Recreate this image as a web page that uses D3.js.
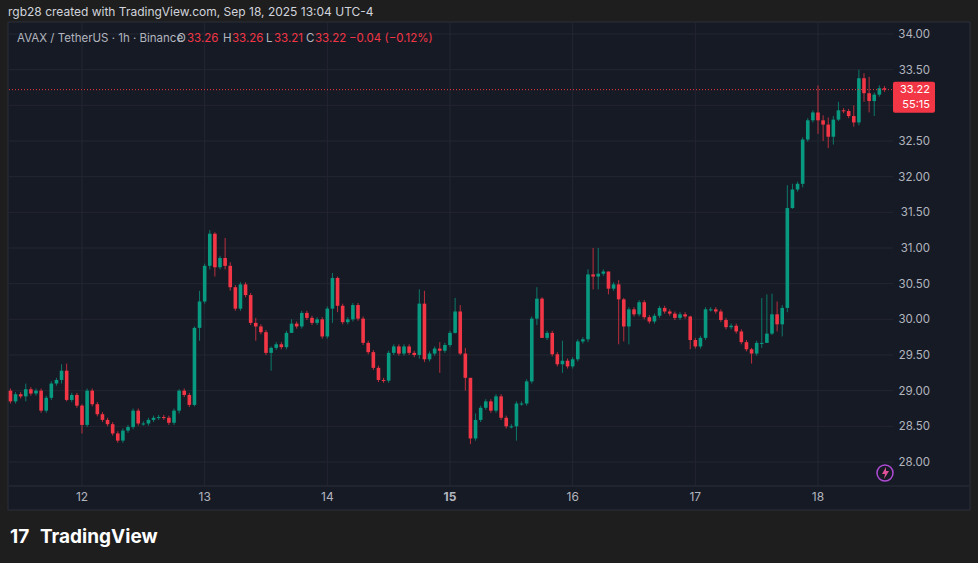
<!DOCTYPE html>
<html><head><meta charset="utf-8">
<script src="https://cdn.jsdelivr.net/npm/d3@7"></script>
<style>
body{margin:0;background:#1e1e1e;font-family:"Inter","Noto Sans",sans-serif;}
</style></head>
<body><div id="chart"></div>
<script>
'use strict';

// hourly closes, Sep 11 10:00 -> Sep 18 13:00
const firstOpen = 29.0;
const closes = [
  28.85,28.95,28.92,29.02,28.96,29.0,28.72,28.90,29.10,29.15,29.28,28.87,28.94,28.79,28.52,29.0,28.81,28.67,28.59,28.53,
  28.40,28.30,28.44,28.49,28.72,28.54,28.54,28.59,28.62,28.63,28.62,28.55,28.72,29.0,28.94,28.80,29.88,30.25,30.75,31.20,
  30.73,30.86,30.75,30.45,30.15,30.49,30.34,29.95,29.90,29.82,29.53,29.60,29.65,29.61,29.81,29.94,29.90,
  30.09,30.02,29.95,30.0,29.76,30.15,30.58,30.19,29.96,30.0,30.20,30.01,29.67,29.54,29.32,29.15,29.14,29.53,29.62,29.52,
  29.62,29.53,29.50,30.22,29.44,29.52,29.59,29.56,29.64,29.81,30.11,29.52,29.18,28.33,28.59,28.76,28.85,28.72,28.92,28.62,
  28.50,28.50,28.82,28.82,29.13,30.01,30.29,29.74,29.81,29.51,29.37,29.42,29.34,29.44,29.69,29.72,30.63,
  30.60,30.64,30.67,30.43,30.49,30.28,29.90,30.14,30.07,30.24,30.03,29.97,30.05,30.16,30.11,30.08,30.02,30.07,30.04,29.71,
  29.62,29.74,30.14,30.14,30.11,29.99,29.89,29.91,29.83,29.68,29.58,29.52,29.67,29.67,29.80,30.07,29.93,30.16,31.56,31.82,
  31.90,32.52,32.79,32.90,32.79,32.73,32.56,32.80,32.93,32.92,32.85,32.76,33.38,33.17,33.06,33.15,33.24,33.22
];
// visible long wicks: index -> [high, low]
const wicks = {
  3:[29.10,28.85], 10:[29.37,29.10], 11:[29.38,28.85], 14:[28.81,28.40], 33:[29.02,28.68],
  36:[29.90,28.78], 37:[30.40,29.70], 39:[31.25,30.70], 40:[31.22,30.60], 42:[31.14,30.70],
  43:[30.80,30.40], 48:[30.02,29.70], 51:[29.62,29.28], 55:[30.00,29.85],
  63:[30.65,29.95], 64:[30.60,30.10], 80:[30.42,29.45], 81:[30.40,29.40], 84:[29.68,29.25],
  87:[30.30,29.80], 88:[30.20,29.50], 89:[29.60,29.00], 90:[29.18,28.25], 91:[28.68,28.30],
  99:[28.85,28.30], 103:[30.45,29.92], 104:[30.31,29.75], 108:[29.70,29.25], 113:[30.70,29.68],
  114:[31.00,30.42], 115:[31.00,30.42], 117:[30.65,30.35], 119:[30.55,29.65], 120:[30.30,29.69],
  121:[30.17,29.65], 133:[30.05,29.58], 145:[29.60,29.38], 147:[30.30,29.60], 148:[30.35,29.72],
  149:[30.36,29.78], 150:[30.25,29.83], 151:[30.20,29.76], 152:[31.88,30.10], 153:[31.90,31.55],
  155:[32.55,31.85], 158:[33.28,32.60], 159:[32.86,32.50], 160:[32.83,32.40], 161:[32.85,32.45],
  162:[33.05,32.78], 165:[33.00,32.70], 166:[33.50,32.72], 167:[33.45,33.05], 168:[33.40,32.90],
  169:[33.18,32.85], 170:[33.28,33.12]
};
const priceTicks = [28.00,28.50,29.00,29.50,30.00,30.50,31.00,31.50,32.00,32.50,33.00,33.50,34.00];
const dayTicks = [12,13,14,15,16,17,18];

const W = 978, H = 563;
const svg = d3.select('#chart').append('svg').attr('width', W).attr('height', H);

// chart panel
svg.append('rect').attr('x', 8).attr('y', 22).attr('width', 962).attr('height', 488)
    .attr('fill', '#161a25').attr('stroke', '#2a2e39');

const t0 = new Date(2025, 8, 11, 10);
const data = closes.map((c, i) => {
    const o = i === 0 ? firstOpen : closes[i - 1];
    const w = wicks[i] || [Math.max(o, c) + 0.03, Math.min(o, c) - 0.03];
    return {t: d3.timeHour.offset(t0, i), o: o, c: c, h: Math.max(w[0], o, c), l: Math.min(w[1], o, c)};
});

const x = d3.scaleTime()
    .domain([new Date(2025, 8, 12), new Date(2025, 8, 18)])
    .range([82, 818]);
const y = d3.scaleLinear().domain([28, 34]).range([462, 34]);

const plotR = 893;
// grid
svg.append('g').selectAll('line').data(priceTicks).join('line')
    .attr('x1', 9).attr('x2', plotR).attr('y1', d => y(d)).attr('y2', d => y(d))
    .attr('stroke', '#232632');
svg.append('g').selectAll('line').data(dayTicks).join('line')
    .attr('x1', d => x(new Date(2025, 8, d))).attr('x2', d => x(new Date(2025, 8, d)))
    .attr('y1', 23).attr('y2', 486).attr('stroke', '#232632');

svg.append('line').attr('x1', 9).attr('x2', 969).attr('y1', 486).attr('y2', 486).attr('stroke', '#2a2e39');

// price labels
svg.append('g').selectAll('text').data(priceTicks).join('text')
    .attr('x', 930).attr('y', d => y(d) + 4).attr('text-anchor', 'end')
    .attr('fill', '#b2b5be').attr('font-size', 11.5)
    .text(d => d.toFixed(2));

// day labels
svg.append('g').selectAll('text').data(dayTicks).join('text')
    .attr('x', d => x(new Date(2025, 8, d))).attr('y', 501).attr('text-anchor', 'middle')
    .attr('fill', '#b2b5be').attr('font-size', 12)
    .attr('font-weight', d => d === 15 ? 700 : 400)
    .text(d => d);

// candles
const up = '#089981', dn = '#f23645';
const cg = svg.append('g');
cg.selectAll('line').data(data).join('line')
    .attr('x1', d => x(d.t)).attr('x2', d => x(d.t))
    .attr('y1', d => y(d.h)).attr('y2', d => y(d.l))
    .attr('stroke', d => d.c >= d.o ? up : dn).attr('stroke-opacity', 0.75);
cg.selectAll('rect').data(data).join('rect')
    .attr('x', d => x(d.t) - 1.8).attr('width', 3.6)
    .attr('y', d => y(Math.max(d.o, d.c)))
    .attr('height', d => Math.max(1, Math.abs(y(d.o) - y(d.c))))
    .attr('fill', d => d.c >= d.o ? up : dn);

// last price line + label
const last = closes[closes.length - 1];
svg.append('line').attr('x1', 9).attr('x2', 893).attr('y1', y(last)).attr('y2', y(last))
    .attr('stroke', dn).attr('stroke-dasharray', '1,2');
svg.append('rect').attr('x', 893).attr('y', y(last) - 8).attr('width', 42).attr('height', 31)
    .attr('rx', 2).attr('fill', dn);
svg.append('text').attr('x', 930).attr('y', y(last) + 3).attr('text-anchor', 'end')
    .attr('fill', '#fff').attr('font-size', 11).text(last.toFixed(2));
svg.append('text').attr('x', 930).attr('y', y(last) + 18).attr('text-anchor', 'end')
    .attr('fill', '#fff').attr('font-size', 11).text('55:15');

// header
svg.append('text').attr('x', 8).attr('y', 16).attr('fill', '#d1d4dc').attr('font-size', 12)
    .text('rgb28 created with TradingView.com, Sep 18, 2025 13:04 UTC-4');
const legParts = [
    ['AVAX / TetherUS · 1h · Binance', '#b2b5be', 17],
    ['O', '#b2b5be', 177], ['33.26', dn, 187],
    ['H', '#b2b5be', 223], ['33.26', dn, 232],
    ['L', '#b2b5be', 266], ['33.21', dn, 274],
    ['C', '#b2b5be', 306], ['33.22', dn, 315],
    ['−0.04 (−0.12%)', dn, 349]
];
svg.append('g').selectAll('text').data(legParts).join('text')
    .attr('x', d => d[2]).attr('y', 42).attr('font-size', 11.5)
    .attr('fill', d => d[1]).text(d => d[0]);

// lightning icon
svg.append('circle').attr('cx', 885).attr('cy', 473).attr('r', 8)
    .attr('fill', 'none').attr('stroke', '#b04bd6').attr('stroke-width', 1.5);
svg.append('path').attr('d', 'M886,467 L882,474 L885,474 L884,479 L889,471 L886,471 Z').attr('fill', '#e0519b');

// logo
svg.append('text').attr('x', 10).attr('y', 543).attr('fill', '#ffffff')
    .attr('font-size', 19).attr('font-weight', 700).text('17');
svg.append('text').attr('x', 40).attr('y', 543).attr('fill', '#ffffff')
    .attr('font-size', 19).attr('font-weight', 700).text('TradingView');
</script>
</body></html>
